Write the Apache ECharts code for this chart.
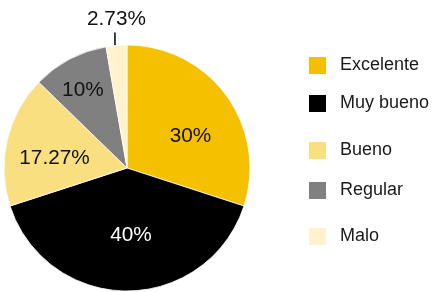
<!DOCTYPE html>
<html>
<head>
<meta charset="utf-8">
<script src="https://cdn.jsdelivr.net/npm/echarts@6/dist/echarts.min.js"></script>
<style>
html,body{margin:0;padding:0;background:#fff;}
#chart{width:443px;height:292px;}
</style>
</head>
<body>
<div id="chart"></div>
<script>
const categories = ['Excelente', 'Muy bueno', 'Bueno', 'Regular', 'Malo'];
const values = [30, 40, 17.27, 10, 2.73];
const labelTexts = ['30%', '40%', '17.27%', '10%', '2.73%'];

const colors = ['#F5C000', '#000000', '#F9DF80', '#808080', '#FFF2CC'];
const labelColors = ['#111', '#fff', '#111', '#111', '#111'];
// label nudges relative to library's default inside position
const labelNudge = [[2, 10.5], [4, 5.5], [-11, 14], [0, -17.5], null];
const legendTops = [55, 93, 140, 180, 226];

const FONT = "'Liberation Sans', Arial, sans-serif";

const chart = echarts.init(document.getElementById('chart'), null, {renderer: 'canvas'});

const data = categories.map((name, i) => {
  const item = {
    name: name,
    value: values[i],
    itemStyle: {color: colors[i]},
    label: {color: labelColors[i], formatter: labelTexts[i]}
  };
  if (i === 4) {
    item.label.position = 'outside';
    item.labelLine = {show: true, length: 13, length2: 0, smooth: false,
      lineStyle: {color: '#000', width: 1.5}};
  }
  return item;
});

const legends = categories.map((name, i) => ({
  data: [name],
  left: 307,
  top: legendTops[i],
  padding: 0,
  icon: 'rect',
  itemWidth: 19,
  itemHeight: 19,
  selectedMode: false,
  textStyle: {fontSize: 18, color: '#1a1a1a', fontFamily: FONT, padding: [0, 0, 0, 8]}
}));

chart.setOption({
  animation: false,
  backgroundColor: '#fff',
  legend: legends,
  series: [{
    type: 'pie',
    center: [127, 168],
    radius: 123,
    startAngle: 90,
    clockwise: true,
    avoidLabelOverlap: false,
    itemStyle: {borderColor: '#fff', borderWidth: 0.8},
    label: {
      show: true,
      position: 'inside',
      fontSize: 20.75,
      fontFamily: FONT,
      fontWeight: 'normal'
    },
    labelLine: {show: false},
    emphasis: {disabled: true},
    labelLayout: function (p) {
      const i = p.dataIndex;
      const r = p.rect;
      const cx = r.x + r.width / 2;
      const cy = r.y + r.height / 2;
      if (i === 4) {
        const pts = p.labelLinePoints;
        let ex = cx, ey = r.y + r.height;
        if (pts && pts.length) { ex = pts[0][0]; ey = pts[0][1]; }
        return {
          x: ex,
          y: ey - 26.5,
          align: 'center',
          verticalAlign: 'middle',
          labelLinePoints: [[ex - 1.5, ey], [ex - 1.5, ey - 13], [ex - 1.5, ey - 13]]
        };
      }
      const n = labelNudge[i];
      return {
        x: cx + n[0],
        y: cy + n[1],
        align: 'center',
        verticalAlign: 'middle'
      };
    },
    data: data
  }]
});
</script>
</body>
</html>
